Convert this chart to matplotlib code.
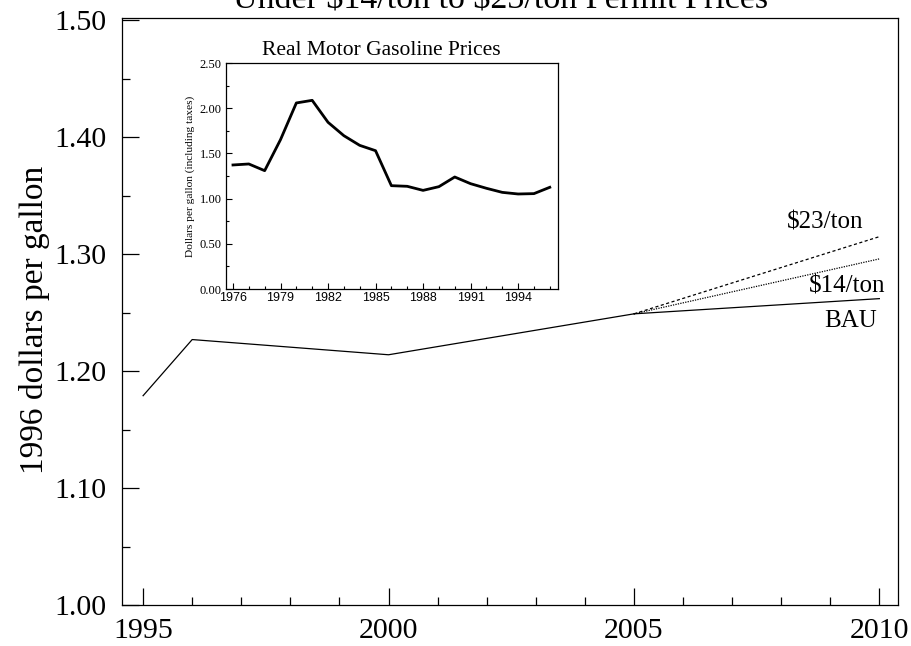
import matplotlib
matplotlib.use("Agg")
import matplotlib.pyplot as plt
from matplotlib.ticker import MultipleLocator, FormatStrFormatter

plt.rcParams['font.family'] = ['Liberation Serif', 'DejaVu Serif']

# Main chart: projected gasoline price (1996 $/gallon)
base_years = [1995, 1996, 2000, 2005]
base_price = [1.179, 1.227, 1.214, 1.249]
proj_years = [2005, 2010]
bau_price = [1.249, 1.262]
t14_price = [1.249, 1.296]
t23_price = [1.249, 1.315]

# Inset: real motor gasoline prices
hist_years = list(range(1976, 1997))
hist_price = [1.372, 1.383, 1.309, 1.652, 2.058, 2.087, 1.844, 1.696, 1.589,
              1.530, 1.143, 1.136, 1.091, 1.132, 1.239, 1.165, 1.114, 1.069,
              1.051, 1.055, 1.125]

fig = plt.figure(figsize=(9.11, 6.46), dpi=100)
ax = fig.add_axes([122/911, 1 - 605/646, (898-122)/911, (605-18)/646])

ax.plot(base_years, base_price, color='black', lw=0.9)
ax.plot(proj_years, bau_price, color='black', lw=0.9)
ax.plot(proj_years, t14_price, color='black', lw=0.9, linestyle=(0, (1, 1)))
ax.plot(proj_years, t23_price, color='black', lw=0.9, linestyle=(0, (2.5, 2)))

ax.set_xlim(1994.57, 2010.38)
ax.set_ylim(1.0, 1.502)
ax.xaxis.set_major_locator(MultipleLocator(5))
ax.xaxis.set_minor_locator(MultipleLocator(1))
ax.yaxis.set_major_locator(MultipleLocator(0.1))
ax.yaxis.set_minor_locator(MultipleLocator(0.05))
ax.yaxis.set_major_formatter(FormatStrFormatter('%.2f'))
ax.tick_params(which='both', direction='in', labelsize=21.5, top=False, right=False)
ax.tick_params(which='major', length=12, width=0.9)
ax.tick_params(which='minor', length=6, width=0.9)
ax.tick_params(axis='y', which='major', pad=11)
ax.tick_params(axis='x', which='major', pad=9)
ax.set_ylabel('1996 dollars per gallon', fontsize=24)
ax.yaxis.set_label_coords(-0.0926, 0.486)
for sp in ax.spines.values():
    sp.set_linewidth(0.9)

# scenario labels
ax.text(2008.9, 1.318, '\\$23/ton', fontsize=18, ha='center', va='bottom')
ax.text(2009.35, 1.263, '\\$14/ton', fontsize=18, ha='center', va='bottom')
ax.text(2009.42, 1.252, 'BAU', fontsize=18, ha='center', va='top')

fig.text(0.55, 1 - 7/646, 'Under \\$14/ton to \\$23/ton Permit Prices', fontsize=24.5,
         ha='center', va='baseline')

# Inset
ins = fig.add_axes([225.7/911, 1 - 289/646, (557.7-225.7)/911, (289-63)/646])
ins.plot(hist_years, hist_price, color='black', lw=2.0)
ins.set_xlim(1975.54, 1996.5)
ins.set_ylim(0, 2.5)
ins.set_xticks(range(1976, 1996, 3))
ins.xaxis.set_minor_locator(MultipleLocator(1))
ins.yaxis.set_major_locator(MultipleLocator(0.5))
ins.yaxis.set_minor_locator(MultipleLocator(0.25))
ins.yaxis.set_major_formatter(FormatStrFormatter('%.2f'))
ins.tick_params(which='both', direction='in', top=False, right=False, width=0.8)
ins.tick_params(which='major', length=4)
ins.tick_params(which='minor', length=2.5)
ins.tick_params(axis='y', labelsize=9, pad=3)
ins.tick_params(axis='x', pad=2)
for lab in ins.get_xticklabels():
    lab.set_family(['Liberation Sans', 'DejaVu Sans'])
    lab.set_fontsize(9)
ins.set_ylabel('Dollars per gallon (including taxes)', fontsize=8.2, labelpad=3)
ins.set_title('Real Motor Gasoline Prices', fontsize=15.5, pad=6, x=0.468)
for sp in ins.spines.values():
    sp.set_linewidth(0.9)

fig.savefig('out.png', dpi=100)
